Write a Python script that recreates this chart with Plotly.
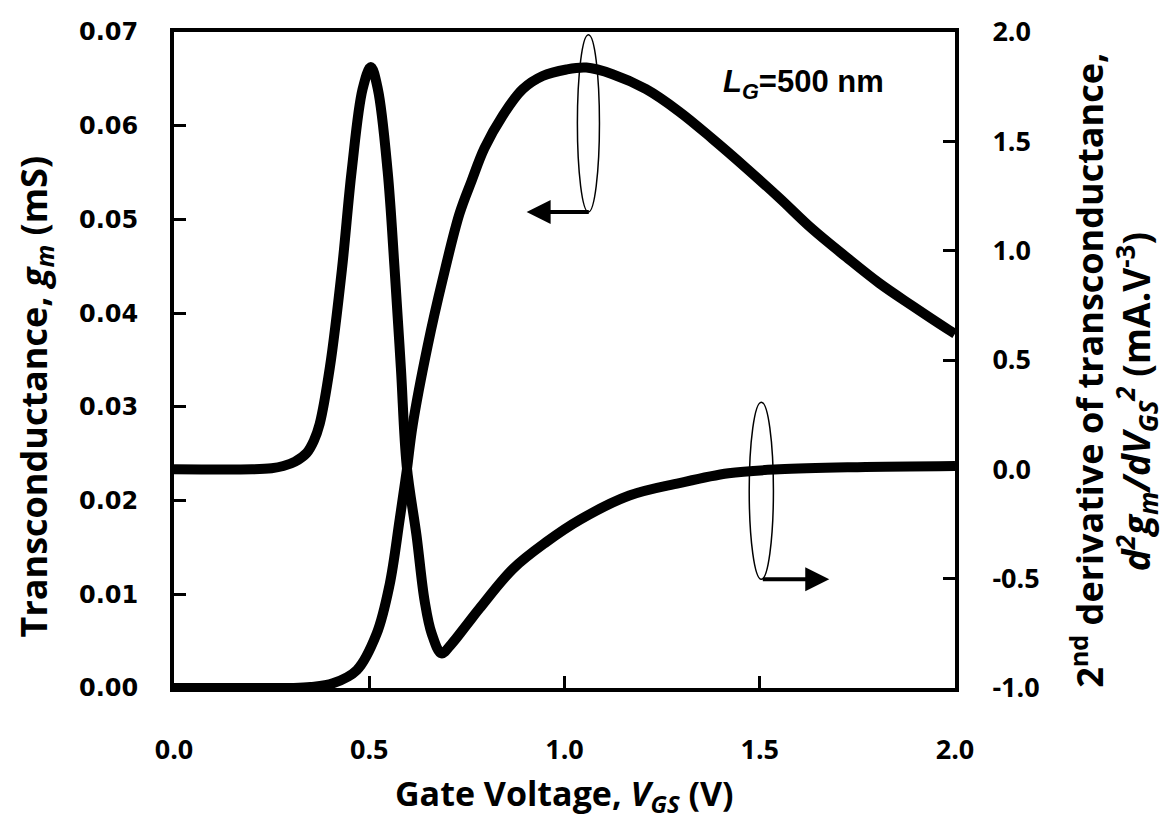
import plotly.graph_objects as go

# ---- data ----
vgs_gm = [0.0, 0.2, 0.3, 0.35, 0.407, 0.468, 0.519, 0.552, 0.578, 0.596, 0.611, 0.650, 0.688,
          0.731, 0.762, 0.795, 0.842, 0.893, 0.944, 1.005, 1.056, 1.123, 1.209, 1.294, 1.379,
          1.465, 1.550, 1.634, 1.721, 1.806, 1.890, 1.977, 2.0]
gm = [0.0, 0.0, 0.0, 0.0001, 0.0005, 0.0019, 0.0058, 0.011, 0.018, 0.0232, 0.0280, 0.0366, 0.0436,
      0.0506, 0.0541, 0.0576, 0.0611, 0.0639, 0.0653, 0.0660, 0.0662, 0.0655, 0.0639, 0.0615, 0.0586,
      0.0555, 0.0523, 0.0490, 0.0460, 0.0432, 0.0408, 0.0384, 0.0378]

vgs_d2 = [0.0, 0.2, 0.25, 0.28, 0.31, 0.34, 0.358, 0.373, 0.399, 0.43, 0.455, 0.483, 0.504, 0.522,
          0.547, 0.565, 0.581, 0.596, 0.621, 0.642, 0.66, 0.685, 0.71, 0.75, 0.783, 0.868,
          0.953, 1.04, 1.166, 1.294, 1.42, 1.55, 1.75, 2.0]
d2gm = [0.0, 0.0, 0.005, 0.015, 0.035, 0.075, 0.13, 0.207, 0.464, 0.914, 1.365, 1.739, 1.84, 1.739,
        1.365, 0.914, 0.464, 0.014, -0.302, -0.604, -0.752, -0.842, -0.80, -0.71, -0.635, -0.455,
        -0.333, -0.23, -0.12, -0.063, -0.018, 0.0, 0.01, 0.015]

x_ticks = [0.0, 0.5, 1.0, 1.5, 2.0]
y_left_ticks = [0.0, 0.01, 0.02, 0.03, 0.04, 0.05, 0.06, 0.07]
y_right_ticks = [-1.0, -0.5, 0.0, 0.5, 1.0, 1.5, 2.0]

x_title = "<b>Gate Voltage, <i>V<sub>GS</sub></i> (V)</b>"
y_title = "<b>Transconductance, <i>g<sub>m</sub></i> (mS)</b>"
y2_title_1 = "<b>2<sup>nd</sup> derivative of transconductance,</b>"
y2_title_2 = "<b><i>d<sup>2</sup>g<sub>m</sub>/dV<sub>GS</sub><sup>2</sup></i> (mA.V<sup>-3</sup>)</b>"
label_text = "<b><i>L<sub>G</sub></i>=500 nm</b>"

fig = go.Figure()
fig.add_trace(go.Scatter(x=vgs_gm, y=gm, mode="lines",
                         line=dict(color="black", width=10, shape="spline", smoothing=1.0),
                         yaxis="y", showlegend=False))
fig.add_trace(go.Scatter(x=vgs_d2, y=d2gm, mode="lines",
                         line=dict(color="black", width=10, shape="spline", smoothing=1.0),
                         yaxis="y2", showlegend=False))

tick_font = dict(family="Open Sans", size=27, color="black", weight="bold")


def tfont(size):
    return dict(family="Open Sans", size=size, color="black", weight="bold")


fig.update_layout(
    width=1168, height=838,
    margin=dict(l=174, r=213, t=22, b=150),
    plot_bgcolor="white", paper_bgcolor="white",
    xaxis=dict(range=[0, 2], tickvals=x_ticks, ticktext=[f"{v:.1f}" for v in x_ticks],
               ticks="inside", ticklen=12, tickwidth=3, tickcolor="black",
               showline=True, linewidth=4, linecolor="black", mirror=True,
               showgrid=False, zeroline=False, ticklabelstandoff=35,
               tickfont=tick_font),
    yaxis=dict(range=[0, 0.07], tickvals=y_left_ticks, ticktext=[f"{v:.2f}" for v in y_left_ticks],
               ticks="inside", ticklen=12, tickwidth=3, tickcolor="black",
               showline=True, linewidth=4, linecolor="black",
               showgrid=False, zeroline=False, ticklabelstandoff=27,
               tickfont=dict(family="DejaVu Sans", size=24, color="black", weight="bold")),
    yaxis2=dict(range=[-1.0, 2.0], tickvals=y_right_ticks, ticktext=[f"{v:.1f}" for v in y_right_ticks],
                overlaying="y", side="right",
                ticks="inside", ticklen=12, tickwidth=3, tickcolor="black",
                showline=True, linewidth=4, linecolor="black",
                showgrid=False, zeroline=False, ticklabelstandoff=28,
                tickfont=tick_font),
)

# axis titles (placed in paper coordinates)
fig.add_annotation(x=(564 - 174) / 781, y=(688 - 797) / 666, xref="paper", yref="paper", showarrow=False,
                   text=x_title, font=tfont(34), xanchor="center", yanchor="middle")
fig.add_annotation(x=(35 - 174) / 781, y=(688 - 392) / 666, xref="paper", yref="paper", showarrow=False,
                   text=y_title, font=tfont(36), textangle=-90, xanchor="center", yanchor="middle")
fig.add_annotation(x=(1088 - 174) / 781, y=(688 - 366) / 666, xref="paper", yref="paper", showarrow=False,
                   text=y2_title_1, font=tfont(36), textangle=-90, xanchor="center", yanchor="middle")
fig.add_annotation(x=(1136 - 174) / 781, y=(688 - 398) / 666, xref="paper", yref="paper", showarrow=False,
                   text=y2_title_2, font=tfont(37), textangle=-90, xanchor="center", yanchor="middle")

# ellipses marking each curve
fig.add_shape(type="circle", xref="x", yref="y", x0=1.033, x1=1.0895, y0=0.0508, y1=0.0697,
              line=dict(color="black", width=1.5))
fig.add_shape(type="circle", xref="x", yref="y", x0=1.473, x1=1.535, y0=0.0116, y1=0.0305,
              line=dict(color="black", width=1.5))

# arrows
fig.add_annotation(x=0.903, y=0.0508, ax=1.066, ay=0.0508, xref="x", yref="y", axref="x", ayref="y",
                   showarrow=True, arrowhead=2, arrowsize=1.2, arrowwidth=4, arrowcolor="black", text="")
fig.add_annotation(x=1.678, y=0.0116, ax=1.504, ay=0.0116, xref="x", yref="y", axref="x", ayref="y",
                   showarrow=True, arrowhead=2, arrowsize=1.2, arrowwidth=4, arrowcolor="black", text="")

fig.add_annotation(x=1.40, y=0.0644, xref="x", yref="y", xanchor="left", yanchor="middle", showarrow=False,
                   text=label_text, font=dict(family="Liberation Sans", size=31, color="black"))

fig.write_html("out.html")
